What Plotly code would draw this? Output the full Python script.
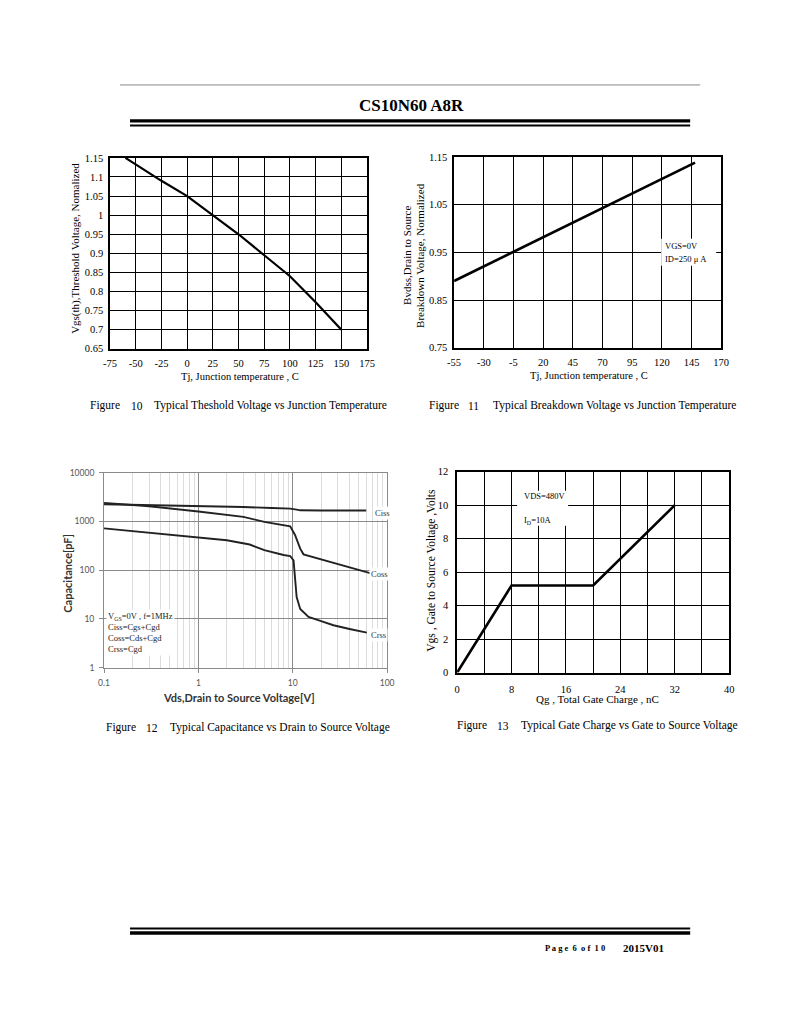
import plotly.graph_objects as go

W, H = 800, 1035

# ---------------- data ----------------
# Figure 10: threshold voltage vs junction temperature
tj10 = [-60, -25, 0, 25, 50, 75, 100, 125, 150]
vth10 = [1.15, 1.09, 1.05, 1.0, 0.95, 0.895, 0.84, 0.772, 0.70]
x10_ticks = [-75, -50, -25, 0, 25, 50, 75, 100, 125, 150, 175]
x10_labels = ["-75", "-50", "-25", "0", "25", "50", "75", "100", "125", "150", "175"]
y10_ticks = [0.65, 0.7, 0.75, 0.8, 0.85, 0.9, 0.95, 1.0, 1.05, 1.1, 1.15]
y10_labels = ["0.65", "0.7", "0.75", "0.8", "0.85", "0.9", "0.95", "1", "1.05", "1.1", "1.15"]

# Figure 11: breakdown voltage vs junction temperature
tj11 = [-55, -5, 70, 148]
bv11 = [0.89, 0.951, 1.044, 1.138]
x11_ticks = [-55, -30, -5, 20, 45, 70, 95, 120, 145, 170]
x11_labels = ["-55", "-30", "-5", "20", "45", "70", "95", "120", "145", "170"]
y11_ticks = [0.75, 0.85, 0.95, 1.05, 1.15]
y11_labels = ["0.75", "0.85", "0.95", "1.05", "1.15"]

# Figure 12: capacitance vs drain-source voltage
vds_ciss = [0.1, 0.3, 1, 3, 6, 9.4, 11, 12, 20, 60]
ciss = [2250, 2180, 2100, 1980, 1880, 1830, 1750, 1690, 1680, 1680]
vds_coss = [0.1, 0.3, 1, 2, 3, 5, 8, 9.4, 10.6, 12, 13, 20, 32, 69]
coss = [2400, 2050, 1600, 1380, 1240, 980, 835, 790, 520, 276, 211, 167, 133, 85]
vds_crss = [0.1, 0.3, 1, 2, 3.5, 5, 8, 9.4, 10.2, 11, 12, 14.7, 20, 27, 40, 61]
crss = [720, 590, 460, 410, 336, 257, 205, 195, 158, 28, 16, 11, 9, 7.4, 6.2, 5.2]
x12_ticks = [0.1, 1, 10, 100]
x12_labels = ["0.1", "1", "10", "100"]
y12_ticks = [1, 10, 100, 1000, 10000]
y12_labels = ["1", "10", "100", "1000", "10000"]
x12_minor = [0.2, 0.3, 0.4, 0.5, 0.6, 0.7, 0.8, 0.9,
             2, 3, 4, 5, 6, 7, 8, 9,
             20, 30, 40, 50, 60, 70, 80, 90]

# Figure 13: gate charge
qg13 = [0, 8, 20, 32]
vgs13 = [0, 5.2, 5.2, 10]
x13_ticks = [0, 8, 16, 24, 32, 40]
x13_minor = [4, 12, 20, 28, 36]
y13_ticks = [0, 2, 4, 6, 8, 10, 12]

# ---------------- helpers ----------------
# the captured page is slightly offset/scaled; map target pixel -> paper fraction
def PX(x):
    return ((x - 7) / 0.981) / W

def PY(y):
    return 1 - ((y - 6) / 0.99) / H

SERIF = "Liberation Serif"
SANS = "Lato"

fig = go.Figure()

fig.add_trace(go.Scatter(x=tj10, y=vth10, mode="lines", xaxis="x", yaxis="y",
                         line=dict(color="black", width=2.2), showlegend=False))
fig.add_trace(go.Scatter(x=tj11, y=bv11, mode="lines", xaxis="x2", yaxis="y2",
                         line=dict(color="black", width=2.6), showlegend=False))
for xs, ys in [(vds_ciss, ciss), (vds_coss, coss), (vds_crss, crss)]:
    fig.add_trace(go.Scatter(x=xs, y=ys, mode="lines", xaxis="x3", yaxis="y3",
                             line=dict(color="#222222", width=1.9), showlegend=False))
fig.add_trace(go.Scatter(x=qg13, y=vgs13, mode="lines", xaxis="x4", yaxis="y4",
                         line=dict(color="black", width=2.6), showlegend=False))

tick_serif = dict(family=SERIF, size=10.5, color="black")
grid_black = dict(showgrid=True, gridcolor="black", gridwidth=1.2, zeroline=False,
                  showline=True, linecolor="black", linewidth=1.5, mirror=True,
                  ticks="", tickfont=tick_serif)
tick_sans = dict(family=SANS, size=8.5, color="#555555")

fig.update_layout(
    width=W, height=H, autosize=False,
    margin=dict(l=0, r=0, t=0, b=0),
    paper_bgcolor="white", plot_bgcolor="white",
    # Figure 10
    xaxis=dict(domain=[PX(110), PX(367)], range=[-75, 175], tickvals=x10_ticks,
               ticktext=x10_labels, anchor="y", ticklabelstandoff=4, **grid_black),
    yaxis=dict(domain=[PY(350), PY(159)], range=[0.65, 1.15], tickvals=y10_ticks,
               ticktext=y10_labels, anchor="x", ticklabelstandoff=3, **grid_black),
    # Figure 11
    xaxis2=dict(domain=[PX(454), PX(721)], range=[-55, 170], tickvals=x11_ticks,
                ticktext=x11_labels, anchor="y2", ticklabelstandoff=4, **grid_black),
    yaxis2=dict(domain=[PY(349), PY(158)], range=[0.75, 1.15], tickvals=y11_ticks,
                ticktext=y11_labels, anchor="x2", ticklabelstandoff=3, **grid_black),
    # Figure 12
    xaxis3=dict(domain=[PX(104), PX(387)], type="log", range=[-1, 2],
                tickvals=x12_ticks, ticktext=x12_labels, anchor="y3",
                showgrid=True, gridcolor="#8a8a8a", gridwidth=1, zeroline=False,
                showline=True, linecolor="#8a8a8a", linewidth=1, mirror=True,
                ticks="outside", ticklen=4, tickcolor="#8a8a8a",
                minor=dict(tickvals=x12_minor, showgrid=True, gridcolor="#dcdcdc",
                           gridwidth=1, ticks=""),
                tickfont=tick_sans, ticklabelstandoff=3),
    yaxis3=dict(domain=[PY(669), PY(474)], type="log", range=[0, 4],
                tickvals=y12_ticks, ticktext=y12_labels, anchor="x3",
                showgrid=True, gridcolor="#8a8a8a", gridwidth=1, zeroline=False,
                showline=True, linecolor="#8a8a8a", linewidth=1, mirror=True,
                ticks="outside", ticklen=4, tickcolor="#8a8a8a",
                tickfont=tick_sans, ticklabelstandoff=3),
    # Figure 13
    xaxis4=dict(domain=[PX(457), PX(729)], range=[0, 40], tickvals=x13_ticks,
                anchor="y4", ticklabelstandoff=6,
                minor=dict(tickvals=x13_minor, showgrid=True, gridcolor="black",
                           gridwidth=1.2, ticks=""),
                **grid_black),
    yaxis4=dict(domain=[PY(674), PY(473)], range=[0, 12], tickvals=y13_ticks,
                anchor="x4", ticklabelstandoff=5, **grid_black),
)

shapes = []
# header lines
shapes.append(dict(type="line", xref="paper", yref="paper", x0=PX(120), x1=PX(700),
                   y0=PY(86), y1=PY(86), line=dict(color="#8a8a8a", width=1)))
shapes.append(dict(type="line", xref="paper", yref="paper", x0=PX(130), x1=PX(690),
                   y0=PY(122), y1=PY(122), line=dict(color="black", width=3.2)))
shapes.append(dict(type="line", xref="paper", yref="paper", x0=PX(130), x1=PX(690),
                   y0=PY(126.5), y1=PY(126.5), line=dict(color="black", width=2)))
# footer lines
shapes.append(dict(type="line", xref="paper", yref="paper", x0=PX(130), x1=PX(690),
                   y0=PY(930), y1=PY(930), line=dict(color="black", width=2)))
shapes.append(dict(type="line", xref="paper", yref="paper", x0=PX(130), x1=PX(690),
                   y0=PY(934.5), y1=PY(934.5), line=dict(color="black", width=3.5)))
# white boxes behind in-plot notes
for (x0, y0, x1, y1) in [(661, 240, 716, 267), (517, 492, 568, 527)]:
    shapes.append(dict(type="rect", xref="paper", yref="paper", layer="above",
                       x0=PX(x0), x1=PX(x1), y0=PY(y0), y1=PY(y1),
                       fillcolor="white", line=dict(width=0)))
fig.update_layout(shapes=shapes)

ann = []

def text(x, y, s, size=11, family=SERIF, color="black", xanchor="center",
         angle=0, bg=None, align="center"):
    d = dict(x=PX(x), y=PY(y), xref="paper", yref="paper", text=s, showarrow=False,
             xanchor=xanchor, yanchor="middle", textangle=angle, align=align,
             font=dict(family=family, size=size, color=color))
    if bg:
        d["bgcolor"] = bg
    ann.append(d)

# header / footer
text(411, 107, "<b>CS10N60 A8R</b>", size=17)
text(543, 950, "<b>P a g e  6  o f  1 0</b>", size=8.5, xanchor="left")
text(621, 950, "<b>2015V01</b>", size=11, xanchor="left")

# Figure 10 titles
text(76, 250, "Vgs(th),Threshold Voltage, Nomalized", size=11, angle=-90)
text(240, 378, "Tj, Junction temperature , C", size=10.5)
# Figure 11 titles
text(407, 257, "Bvdss,Drain to Source", size=11, angle=-90)
text(420, 257, "Breakdown Voltage, Normalized", size=11, angle=-90)
text(589, 377, "Tj, Junction temperature , C", size=10.5)
text(663, 247, "VGS=0V", size=8.5, xanchor="left")
text(663, 260, "ID=250 μ A", size=8.5, xanchor="left")
# Figure 12 titles
text(68, 575, "<b>Capacitance[pF]</b>", size=11, family=SANS, color="#333333", angle=-90)
text(239, 699, "<b>Vds,Drain to Source Voltage[V]</b>", size=11, family=SANS, color="#333333")
text(382, 514, "Ciss", size=8.5, color="#333333", bg="white")
text(379, 575, "Coss", size=8.5, color="#333333", bg="white")
text(378, 636, "Crss", size=8.5, color="#333333", bg="white")
ann.append(dict(x=PX(106), y=PY(610), xref="paper", yref="paper", showarrow=False,
                xanchor="left", yanchor="top", align="left", bgcolor="white",
                text="V<sub>GS</sub>=0V , f=1MHz<br>Ciss=Cgs+Cgd<br>Coss=Cds+Cgd<br>Crss=Cgd",
                font=dict(family=SERIF, size=8.5, color="#222222")))
# Figure 13 titles
text(432, 572, "Vgs , Gate to Source Voltage ,Volts", size=11.5, angle=-90)
text(597, 700, "Qg , Total Gate Charge , nC", size=11)
text(522, 497, "VDS=480V", size=8.5, xanchor="left")
text(522, 522, "I<sub>D</sub>=10A", size=8.5, xanchor="left")

# captions
for (xf, xn, xt, y, num, s) in [
    (88, 129, 152, 407, "10", "Typical Theshold Voltage vs Junction Temperature"),
    (427, 466, 491, 407, "11", "Typical Breakdown Voltage vs Junction Temperature"),
    (104, 144, 168, 729, "12", "Typical Capacitance vs Drain to Source Voltage"),
    (455, 495, 519, 727, "13", "Typical Gate Charge vs Gate to Source Voltage"),
]:
    text(xf, y, "Figure", size=11.5, xanchor="left")
    text(xn, y, num, size=11.5, xanchor="left")
    text(xt, y, s, size=11.5, xanchor="left")

fig.update_layout(annotations=ann)
fig.write_html("out.html", config={"displayModeBar": False},
               post_script="document.body.style.margin='0';document.body.style.padding='0';document.body.style.overflow='hidden';")
